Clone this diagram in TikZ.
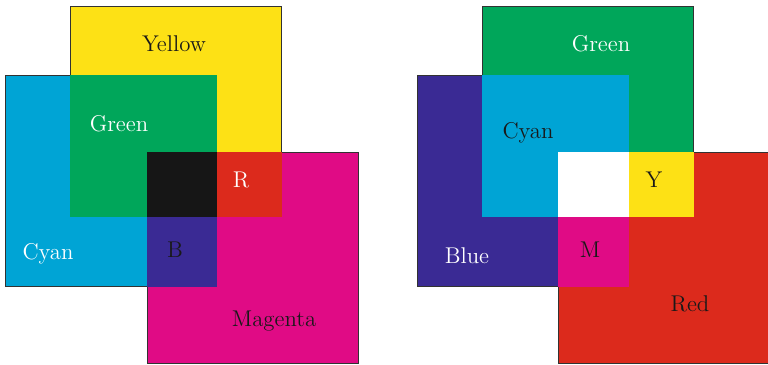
\documentclass[tikz,border=0pt]{standalone}
\usepackage{tikz}

\definecolor{cYellow}{RGB}{253,225,21}
\definecolor{cGreen}{RGB}{0,166,90}
\definecolor{cCyan}{RGB}{0,164,213}
\definecolor{cMagenta}{RGB}{224,11,133}
\definecolor{cRed}{RGB}{220,42,28}
\definecolor{cBlue}{RGB}{58,42,148}
\definecolor{cBlack}{RGB}{22,22,22}
\definecolor{cEdge}{RGB}{50,50,50}
\definecolor{cDark}{RGB}{25,25,25}

\tikzset{
  primary/.style={fill=#1, draw=cEdge, line width=0.45pt},
  overlap/.style={fill=#1, draw=#1, line width=0.45pt},
  lbl/.style={font=\fontsize{11.4}{13}\selectfont, inner sep=0pt, text=#1},
}

\begin{document}
\begin{tikzpicture}[x=0.5pt, y=-0.5pt]
  \useasboundingbox (0,0) rectangle (768,365);

  % subtractive mixing: yellow, cyan, magenta
  \path[primary=cYellow]  (70,6)   rectangle (281,216);
  \path[primary=cCyan]    (5,75)   rectangle (216,286);
  \path[primary=cMagenta] (147,152) rectangle (358,363);
  \path[overlap=cGreen]   (70,75)   rectangle (216,216);
  \path[overlap=cRed]     (147,152) rectangle (281,216);
  \path[overlap=cBlue]    (147,152) rectangle (216,286);
  \path[overlap=cBlack]   (147,152) rectangle (216,216);

  \node[lbl=cDark] (yellowL)  at (174,44)  {Yellow};
  \node[lbl=white] (greenL)   at (119,124) {Green};
  \node[lbl=white] (rL)       at (241,180) {R};
  \node[lbl=white] (cyanL)    at (48,254)  {Cyan};
  \node[lbl=cDark] (bL)       at (175,250) {B};
  \node[lbl=cDark] (magentaL) at (274,321) {Magenta};

  % additive mixing: green, blue, red
  \path[primary=cGreen]   (482,6)   rectangle (693,216);
  \path[primary=cBlue]    (417,75)  rectangle (628,286);
  \path[primary=cRed]     (558,152) rectangle (769,363);
  \path[overlap=cCyan]    (482,75)  rectangle (628,216);
  \path[overlap=cYellow]  (558,152) rectangle (693,216);
  \path[overlap=cMagenta] (558,152) rectangle (628,286);
  \path[overlap=white]    (558,152) rectangle (628,216);

  \node[lbl=white] (greenR) at (601,44)  {Green};
  \node[lbl=cDark] (cyanR)  at (528,133) {Cyan};
  \node[lbl=cDark] (yR)     at (654,180) {Y};
  \node[lbl=white] (blueR)  at (467,256) {Blue};
  \node[lbl=cDark] (mR)     at (590,250) {M};
  \node[lbl=cDark] (redR)   at (690,304) {Red};
\end{tikzpicture}
\end{document}
